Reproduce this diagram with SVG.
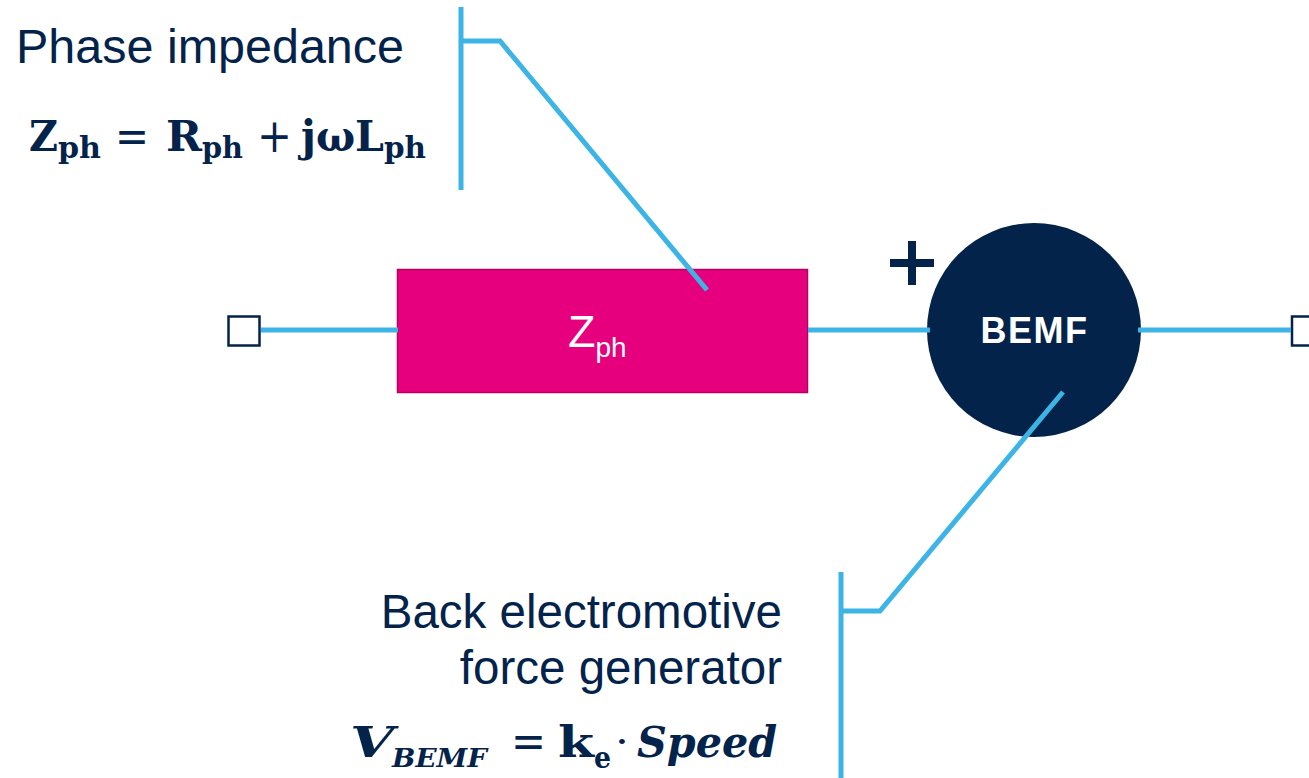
<svg xmlns="http://www.w3.org/2000/svg" width="1309" height="778" viewBox="0 0 1309 778">
<style>
.lbl{font-family:"Liberation Sans",Arial,sans-serif;fill:#03234B;font-size:47.5px}
.m{font-family:"DejaVu Serif","Liberation Serif",serif;font-weight:bold;fill:#03234B}
.mi{font-family:"DejaVu Serif","Liberation Serif",serif;font-weight:bold;font-style:italic;fill:#03234B}
.op{font-family:"DejaVu Serif","Liberation Serif",serif;font-weight:normal;fill:#03234B}
.wire{stroke:#3CB4E6;stroke-width:5;fill:none}
.lead{stroke:#3CB4E6;stroke-width:5;fill:none;stroke-linejoin:miter}
.term{fill:#FFFFFF;stroke:#03234B;stroke-width:2.5}
</style>
<rect width="1309" height="778" fill="#FFFFFF"/>
<g id="terminal-left">
  <rect class="term" x="228.5" y="316.5" width="31" height="29"/>
</g>
<g id="terminal-right">
  <rect class="term" x="1292" y="316.5" width="31" height="29"/>
</g>
<g id="zph">
  <rect x="397.5" y="269.5" width="410" height="123" fill="#E6007E" stroke="#B4005F" stroke-width="1.5"/>
  <text x="568" y="347" font-family="'Liberation Sans',Arial,sans-serif" font-size="45" fill="#FFFFFF">Z<tspan font-size="28" dy="10">ph</tspan></text>
</g>
<g id="bemf">
  <circle cx="1034" cy="330" r="107" fill="#03234B"/>
  <text x="1034.5" y="343" text-anchor="middle" font-family="'Liberation Sans',Arial,sans-serif" font-weight="bold" font-size="36" letter-spacing="1.5" fill="#FFFFFF">BEMF</text>
</g>
<g id="plus">
  <rect x="908" y="241" width="8" height="44" fill="#03234B"/>
  <rect x="890" y="259" width="44" height="8" fill="#03234B"/>
</g>
<g id="connectors">
  <line class="wire" x1="261" y1="330" x2="398" y2="330"/>
  <line class="wire" x1="808" y1="330" x2="930" y2="330"/>
  <line class="wire" x1="1138" y1="330" x2="1291" y2="330"/>
  <polyline class="lead" points="461,7 461,190"/>
  <polyline class="lead" points="461,41 500,41 707,290"/>
  <polyline class="lead" points="841,572 841,778"/>
  <polyline class="lead" points="841,611 880,611 1063,392"/>
</g>
<g id="phase-label">
  <text class="lbl" x="16" y="63" textLength="388" lengthAdjust="spacingAndGlyphs">Phase impedance</text>
  <text class="m" font-size="42" x="29" y="151" textLength="29" lengthAdjust="spacingAndGlyphs">Z</text>
  <text class="m" font-size="29" x="58" y="158" textLength="43" lengthAdjust="spacingAndGlyphs">ph</text>
  <text class="op" font-size="46" x="115" y="152" textLength="34" lengthAdjust="spacingAndGlyphs">=</text>
  <text class="m" font-size="42" x="166" y="151" textLength="36" lengthAdjust="spacingAndGlyphs">R</text>
  <text class="m" font-size="29" x="202" y="158" textLength="41" lengthAdjust="spacingAndGlyphs">ph</text>
  <text class="op" font-size="46" x="257" y="152" textLength="35" lengthAdjust="spacingAndGlyphs">+</text>
  <text class="m" font-size="42" x="301" y="151" textLength="83" lengthAdjust="spacingAndGlyphs">jωL</text>
  <text class="m" font-size="29" x="384" y="158" textLength="42" lengthAdjust="spacingAndGlyphs">ph</text>
</g>
<g id="bemf-label">
  <text class="lbl" x="782" y="628" text-anchor="end">Back electromotive</text>
  <text class="lbl" x="782" y="684" text-anchor="end">force generator</text>
  <text class="mi" font-size="43" x="350" y="757" textLength="44" lengthAdjust="spacingAndGlyphs">V</text>
  <text class="mi" font-size="26" x="392" y="767" textLength="95" lengthAdjust="spacingAndGlyphs">BEMF</text>
  <text class="op" font-size="46" x="511" y="757" textLength="35" lengthAdjust="spacingAndGlyphs">=</text>
  <text class="m" font-size="43" x="558" y="757" textLength="36" lengthAdjust="spacingAndGlyphs">k</text>
  <text class="m" font-size="30" x="594" y="768" textLength="17" lengthAdjust="spacingAndGlyphs">e</text>
  <text class="op" font-size="40" x="615" y="755" textLength="14" lengthAdjust="spacingAndGlyphs">·</text>
  <text class="mi" font-size="43" x="637" y="757" textLength="140" lengthAdjust="spacingAndGlyphs">Speed</text>
</g>
</svg>
